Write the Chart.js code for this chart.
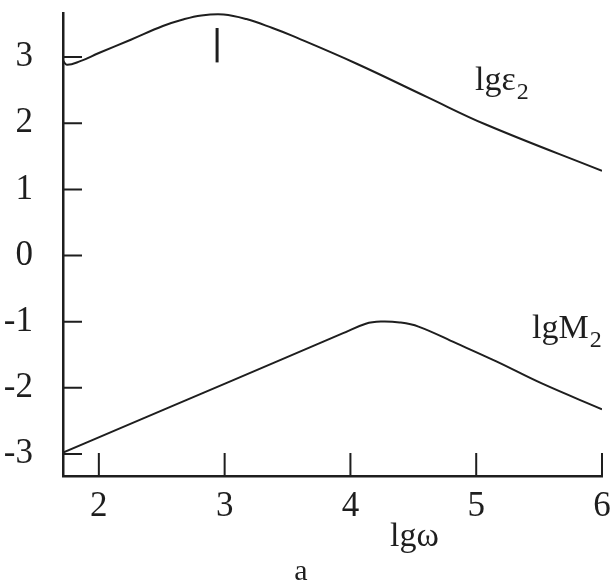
<!DOCTYPE html>
<html>
<head>
<meta charset="utf-8">
<script src="https://cdn.jsdelivr.net/npm/chart.js@4.4.1/dist/chart.umd.min.js"></script>
<style>
  html, body { margin: 0; padding: 0; background: #fff; }
</style>
</head>
<body>
<canvas id="chart" width="613" height="583"></canvas>
<script>
// tick values on both axes
const xTicks = [2, 3, 4, 5, 6];
const yTicks = [-3, -2, -1, 0, 1, 2, 3];

// lg(eps2) vs lg(omega)
const epsX = [1.715, 1.745, 1.847, 2.0, 2.254, 2.509, 2.662, 2.815, 2.992, 3.173, 3.38, 3.535, 4.05, 4.611, 5.081, 6.0];
const epsY = [2.95, 2.885, 2.935, 3.062, 3.263, 3.47, 3.565, 3.63, 3.645, 3.575, 3.44, 3.324, 2.9, 2.395, 1.977, 1.28];

// lg(M2) vs lg(omega)
const mX = [1.715, 2.134, 2.582, 3.031, 3.487, 3.942, 4.122, 4.242, 4.392, 4.541, 4.84, 5.164, 5.517, 6.0];
const mY = [-2.98, -2.64, -2.277, -1.913, -1.543, -1.174, -1.03, -0.998, -1.012, -1.074, -1.325, -1.604, -1.93, -2.324];

// short vertical marker near the eps2 maximum
const markX = [2.94, 2.94];
const markY = [2.92, 3.44];

const INK = '#1e1e1e';
const SERIF = "'Liberation Serif', 'Times New Roman', serif";

const toPoints = (xs, ys) => xs.map((x, i) => ({ x, y: ys[i] }));

// tick marks pointing into the plot
const inwardTicks = {
  id: 'inwardTicks',
  afterDatasetsDraw(chart) {
    const { ctx, chartArea, scales: { x, y } } = chart;
    ctx.save();
    ctx.strokeStyle = INK;
    ctx.lineWidth = 2;
    ctx.beginPath();
    xTicks.forEach(v => {
      const px = x.getPixelForValue(v);
      ctx.moveTo(px, chartArea.bottom);
      ctx.lineTo(px, chartArea.bottom - 23);
    });
    yTicks.forEach(v => {
      const py = y.getPixelForValue(v);
      ctx.moveTo(chartArea.left, py);
      ctx.lineTo(chartArea.left + 19, py);
    });
    ctx.stroke();
    ctx.restore();
  }
};

function drawLabel(ctx, text, sub, x, y) {
  ctx.font = '34px ' + SERIF;
  ctx.fillText(text, x, y);
  if (sub) {
    const w = ctx.measureText(text).width;
    ctx.font = '24px ' + SERIF;
    ctx.fillText(sub, x + w + 1, y + 9);
  }
}

// curve names, axis name and panel letter
const curveLabels = {
  id: 'curveLabels',
  afterDraw(chart) {
    const { ctx, chartArea } = chart;
    ctx.save();
    ctx.fillStyle = INK;
    ctx.textBaseline = 'alphabetic';
    ctx.textAlign = 'left';
    drawLabel(ctx, 'lg\u03b5', '2', chartArea.right - 127, chartArea.top + 77);
    drawLabel(ctx, 'lgM', '2', chartArea.right - 70, chartArea.top + 325);
    drawLabel(ctx, 'lg\u03c9', null, chartArea.left + 327, chartArea.bottom + 70);
    ctx.textAlign = 'center';
    ctx.font = '30px ' + SERIF;
    ctx.fillText('a', chartArea.left + 238, chartArea.bottom + 104);
    ctx.restore();
  }
};

const lineStyle = {
  borderColor: INK,
  borderWidth: 2,
  pointRadius: 0,
  fill: false,
  tension: 0.4
};

new Chart(document.getElementById('chart'), {
  type: 'line',
  data: {
    datasets: [
      { label: 'lgε2', data: toPoints(epsX, epsY), ...lineStyle },
      { label: 'lgM2', data: toPoints(mX, mY), ...lineStyle },
      { label: 'marker', data: toPoints(markX, markY), borderColor: INK, borderWidth: 3, pointRadius: 0 }
    ]
  },
  options: {
    responsive: false,
    animation: false,
    devicePixelRatio: 1,
    layout: { padding: { top: 13, right: 11, left: 0, bottom: 0 } },
    plugins: {
      legend: { display: false },
      tooltip: { enabled: false }
    },
    scales: {
      x: {
        type: 'linear',
        min: 1.715,
        max: 6,
        afterBuildTicks: s => { s.ticks = xTicks.map(v => ({ value: v })); },
        afterFit: s => { s.height = 107; s.paddingLeft = 0; s.paddingRight = 0; },
        grid: { display: false, drawTicks: false },
        border: { display: true, color: INK, width: 2.5 },
        ticks: {
          color: INK,
          padding: 10,
          font: { family: SERIF, size: 35 }
        }
      },
      y: {
        type: 'linear',
        min: -3.333,
        max: 3.667,
        afterBuildTicks: s => { s.ticks = yTicks.map(v => ({ value: v })); },
        afterFit: s => { s.width = 63; s.paddingTop = 0; s.paddingBottom = 0; },
        grid: { display: false, drawTicks: false },
        border: { display: true, color: INK, width: 2.5 },
        ticks: {
          color: INK,
          padding: 30,
          font: { family: SERIF, size: 35 }
        }
      }
    }
  },
  plugins: [inwardTicks, curveLabels]
});
</script>
</body>
</html>
